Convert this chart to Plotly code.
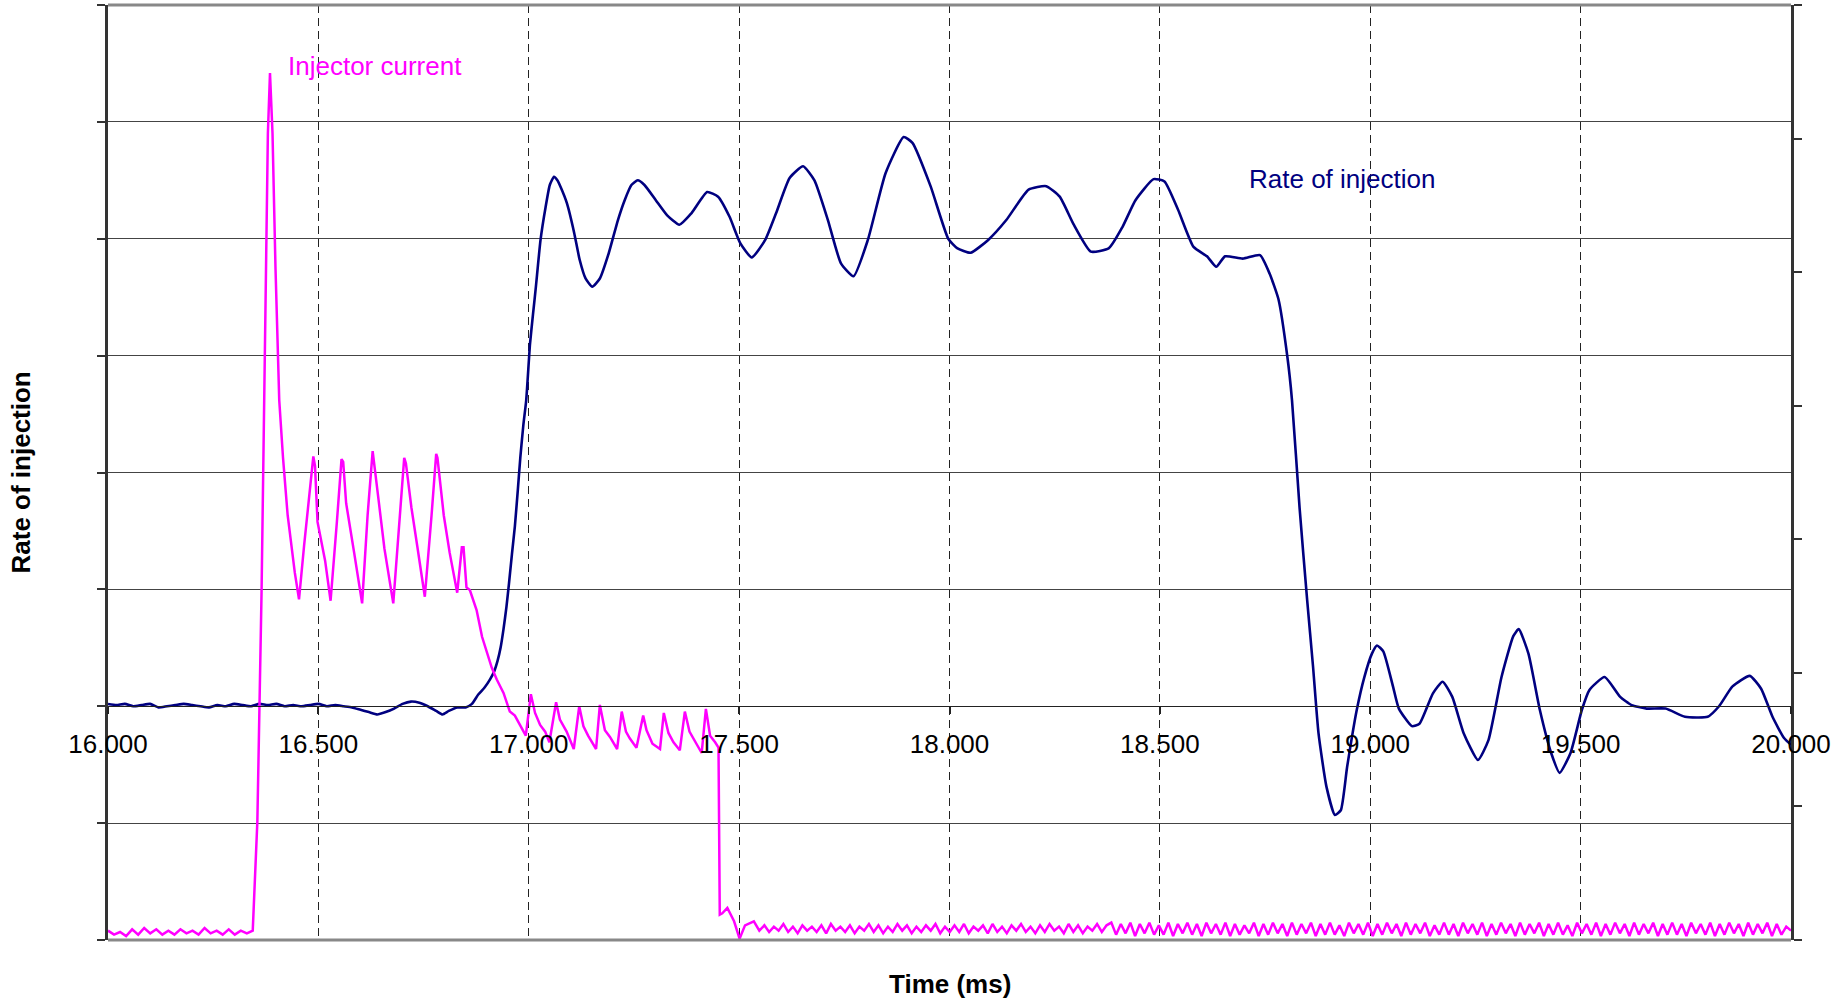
import plotly.graph_objects as go

# ---------------- data ----------------
x_tick_vals = [16.0, 16.5, 17.0, 17.5, 18.0, 18.5, 19.0, 19.5, 20.0]
x_tick_text = ["16.000", "16.500", "17.000", "17.500", "18.000", "18.500", "19.000", "19.500", "20.000"]

# Rate of injection (primary axis)
rate_t = [16.00, 16.02, 16.04, 16.06, 16.08, 16.10, 16.12, 16.14, 16.16, 16.18,
          16.20, 16.22, 16.24, 16.26, 16.28, 16.30, 16.32, 16.34, 16.36, 16.38,
          16.40, 16.42, 16.44, 16.46, 16.48, 16.50, 16.52, 16.54, 16.56, 16.58,
          16.60, 16.62, 16.64, 16.66, 16.68, 16.70, 16.72, 16.74, 16.76, 16.78,
          16.795, 16.81, 16.83, 16.85, 16.865, 16.88, 16.895, 16.908, 16.918, 16.926,
          16.933, 16.940, 16.947, 16.953, 16.960, 16.967, 16.974, 16.980, 16.987, 16.994,
          17.003, 17.010, 17.017, 17.028, 17.040, 17.050, 17.060, 17.068, 17.076, 17.091,
          17.108, 17.121, 17.135, 17.151, 17.169, 17.190, 17.212, 17.228, 17.244, 17.259,
          17.275, 17.302, 17.329, 17.358, 17.387, 17.424, 17.450, 17.477, 17.503, 17.530,
          17.562, 17.588, 17.620, 17.652, 17.679, 17.711, 17.742, 17.772, 17.806, 17.848,
          17.891, 17.912, 17.955, 17.997, 18.018, 18.050, 18.092, 18.135, 18.188, 18.230,
          18.262, 18.294, 18.336, 18.379, 18.411, 18.442, 18.485, 18.511, 18.543, 18.580,
          18.612, 18.634, 18.655, 18.697, 18.738, 18.761, 18.782, 18.803, 18.814, 18.832,
          18.850, 18.864, 18.877, 18.896, 18.916, 18.930, 18.945, 18.968, 18.986, 19.004,
          19.016, 19.031, 19.054, 19.068, 19.099, 19.117, 19.149, 19.172, 19.195, 19.222,
          19.256, 19.281, 19.312, 19.340, 19.353, 19.376, 19.403, 19.430, 19.450, 19.476,
          19.503, 19.521, 19.557, 19.594, 19.621, 19.657, 19.702, 19.748, 19.802, 19.829,
          19.861, 19.902, 19.929, 19.956, 19.983, 20.000]
rate_v = [0.02, 0.01, 0.02, 0.00, 0.01, 0.02, -0.01, 0.00, 0.01, 0.02,
          0.01, 0.00, -0.01, 0.01, 0.00, 0.02, 0.01, 0.00, 0.02, 0.01,
          0.02, 0.00, 0.01, 0.00, 0.01, 0.02, 0.00, 0.01, 0.00, -0.01,
          -0.03, -0.05, -0.07, -0.05, -0.02, 0.02, 0.04, 0.03, 0.00, -0.04,
          -0.07, -0.04, -0.01, -0.01, 0.02, 0.10, 0.16, 0.23, 0.30, 0.39,
          0.50, 0.66, 0.85, 1.05, 1.30, 1.54, 1.85, 2.13, 2.40, 2.62,
          3.10, 3.35, 3.59, 3.99, 4.27, 4.46, 4.53, 4.50, 4.44, 4.30,
          4.05, 3.82, 3.66, 3.59, 3.66, 3.875, 4.16, 4.33, 4.46, 4.50,
          4.46, 4.33, 4.20, 4.12, 4.22, 4.40, 4.36, 4.19, 3.96, 3.84,
          3.99, 4.22, 4.52, 4.62, 4.50, 4.16, 3.79, 3.68, 3.99, 4.56,
          4.87, 4.82, 4.45, 4.00, 3.92, 3.88, 3.99, 4.16, 4.42, 4.45,
          4.36, 4.13, 3.89, 3.92, 4.10, 4.33, 4.51, 4.49, 4.25, 3.93,
          3.85, 3.76, 3.85, 3.83, 3.86, 3.70, 3.48, 2.99, 2.62, 1.70,
          0.91, 0.34, -0.23, -0.69, -0.93, -0.89, -0.52, -0.03, 0.25, 0.45,
          0.52, 0.47, 0.17, -0.02, -0.17, -0.15, 0.11, 0.21, 0.08, -0.23,
          -0.46, -0.29, 0.25, 0.60, 0.66, 0.45, -0.03, -0.40, -0.57, -0.40,
          -0.03, 0.14, 0.25, 0.08, 0.01, -0.02, -0.02, -0.09, -0.09, 0.00,
          0.17, 0.26, 0.15, -0.09, -0.27, -0.33]

# Injector current (secondary axis)
# baseline ripple before the pulse (hundredths), sampled from 16.000 to 16.330
pre_ripple = [7, 4, 6, 3, 8, 4, 9, 5, 8, 4, 7, 4, 8, 5, 7, 4, 9, 5, 7, 4, 8, 4, 7, 5]
pre_start, pre_end = 16.000, 16.330

current_t = [16.344, 16.355, 16.365, 16.371, 16.380, 16.385, 16.391, 16.398, 16.407, 16.416,
             16.427, 16.444, 16.454, 16.466, 16.478, 16.488, 16.492, 16.498, 16.516, 16.529,
             16.544, 16.555, 16.559, 16.566, 16.585, 16.604, 16.617, 16.629, 16.644, 16.657,
             16.678, 16.694, 16.704, 16.708, 16.721, 16.735, 16.753, 16.769, 16.780, 16.783,
             16.798, 16.812, 16.830, 16.841, 16.845, 16.852, 16.860, 16.876, 16.889, 16.912,
             16.924, 16.940, 16.955, 16.967, 16.979, 16.993, 17.005, 17.015, 17.027, 17.039,
             17.049, 17.065, 17.074, 17.090, 17.107, 17.120, 17.130, 17.141, 17.160, 17.169,
             17.181, 17.193, 17.210, 17.221, 17.231, 17.240, 17.256, 17.272, 17.280, 17.294,
             17.312, 17.321, 17.332, 17.344, 17.359, 17.371, 17.382, 17.393, 17.411, 17.421,
             17.431, 17.443, 17.451, 17.454, 17.460, 17.472, 17.488, 17.501, 17.514, 17.535,
             17.548]
current_v = [0.07, 0.89, 2.61, 4.04, 6.04, 6.49, 6.04, 5.04, 4.04, 3.61,
             3.18, 2.75, 2.55, 2.95, 3.30, 3.62, 3.55, 3.13, 2.84, 2.54,
             3.13, 3.60, 3.58, 3.27, 2.90, 2.52, 3.18, 3.66, 3.27, 2.93,
             2.52, 3.18, 3.61, 3.57, 3.24, 2.95, 2.57, 3.18, 3.64, 3.61,
             3.18, 2.90, 2.60, 2.94, 2.94, 2.64, 2.62, 2.47, 2.27, 2.04,
             1.95, 1.85, 1.71, 1.68, 1.61, 1.53, 1.84, 1.70, 1.61, 1.56,
             1.48, 1.78, 1.65, 1.56, 1.43, 1.75, 1.60, 1.53, 1.43, 1.76,
             1.57, 1.52, 1.43, 1.71, 1.56, 1.51, 1.44, 1.68, 1.57, 1.47,
             1.43, 1.70, 1.55, 1.48, 1.42, 1.71, 1.56, 1.50, 1.40, 1.73,
             1.53, 1.48, 1.44, 0.19, 0.20, 0.24, 0.14, 0.01, 0.11, 0.14,
             0.07]

# baseline ripple after the pulse (hundredths), sampled from 17.560 to 20.000
post_ripple = [11, 6, 10, 7, 12, 6, 10, 5, 11, 7, 10, 6, 11, 5, 12, 7, 10, 6, 11, 5,
               10, 7, 12, 6, 11, 5, 10, 6, 12, 7, 11, 5, 10, 6, 11, 7, 12, 5, 10, 6,
               11, 6, 12, 5, 10, 7, 11, 5, 12, 6, 10, 5, 11, 7, 12, 6, 10, 5, 11, 6,
               12, 7, 10, 5, 12, 6, 11, 5, 10, 7, 12, 6, 11,
               13, 4, 12, 5, 13, 3, 12, 5, 13, 4, 11, 4, 13, 3, 12, 5, 13, 4, 12, 3,
               13, 5, 12, 4, 13, 3, 12, 4, 11, 5, 13, 3, 12, 4, 13, 5, 12, 3, 13, 4,
               12, 5, 13, 3, 12, 4, 13, 4, 11, 3, 13, 5, 12, 4, 13, 3, 12, 4, 13, 5,
               12, 3, 13, 4, 12, 5, 13, 3, 11, 4, 13, 4, 12, 3, 13, 5, 12, 4, 13, 3,
               12, 4, 13, 5, 12, 3, 13, 4, 12, 5, 13, 3, 12, 4, 13, 4, 11, 3, 13, 5,
               12, 4, 13, 3, 12, 4, 13, 5, 12, 3, 13, 4, 12, 5, 13, 3, 12, 4, 13, 4,
               12, 3, 13, 5, 12, 4, 13, 3, 12, 4, 13, 5, 12, 3, 13, 4, 12, 5, 13, 3,
               12, 4, 10, 7]
post_start, post_end = 17.560, 20.000

# ---------------- assemble sample grids ----------------
def grid(a, b, n):
    return [a + (b - a) * i / (n - 1) for i in range(n)]

inj_t = grid(pre_start, pre_end, len(pre_ripple)) + current_t + grid(post_start, post_end, len(post_ripple))
inj_v = [v / 100 for v in pre_ripple] + current_v + [v / 100 for v in post_ripple]

NAVY = "#000080"
MAGENTA = "#FF00FF"
FONT = "Liberation Sans, Arial, sans-serif"
FS = 26

fig = go.Figure()
fig.add_trace(go.Scatter(x=rate_t, y=rate_v, mode="lines", name="Rate of injection",
                         line=dict(color=NAVY, width=2.6, shape="spline", smoothing=0.5),
                         yaxis="y"))
fig.add_trace(go.Scatter(x=inj_t, y=inj_v, mode="lines", name="Injector current",
                         line=dict(color=MAGENTA, width=2.5), yaxis="y2"))

fig.update_layout(
    width=1848, height=1004,
    margin=dict(l=108, r=57, t=5, b=64),
    paper_bgcolor="white", plot_bgcolor="white",
    showlegend=False,
    font=dict(family=FONT, size=FS, color="black"),
    xaxis=dict(
        range=[16, 20], anchor="free", position=0.25,
        tickmode="array", tickvals=x_tick_vals, ticktext=x_tick_text,
        ticks="outside", ticklen=7, tickwidth=1.5, tickcolor="#222",
        ticklabelstandoff=8,
        showline=True, linecolor="#222", linewidth=1,
        showgrid=True, gridcolor="#222", gridwidth=1, griddash="8px,5px",
        zeroline=False, tickfont=dict(size=FS, family=FONT),
    ),
    yaxis=dict(
        range=[-2, 6], tick0=0, dtick=1, showticklabels=False,
        ticks="outside", ticklen=8, tickwidth=1.5, tickcolor="#333",
        showline=True, linecolor="#333", linewidth=2.5,
        showgrid=True, gridcolor="#444", gridwidth=1, zeroline=False,
    ),
    yaxis2=dict(
        range=[0, 7], tick0=0, dtick=1, showticklabels=False,
        overlaying="y", side="right",
        ticks="outside", ticklen=8, tickwidth=1.5, tickcolor="#333",
        showline=True, linecolor="#333", linewidth=2.5,
        showgrid=False, zeroline=False,
    ),
    shapes=[
        dict(type="line", xref="paper", yref="paper", x0=0, x1=1, y0=1, y1=1,
             line=dict(color="#888888", width=3)),
        dict(type="line", xref="paper", yref="paper", x0=0, x1=1, y0=0, y1=0,
             line=dict(color="#888888", width=3)),
    ],
    annotations=[
        dict(text="Injector current", x=16.423, xref="x", y=0.9348, yref="paper",
             xanchor="left", yanchor="middle", showarrow=False,
             font=dict(color=MAGENTA, size=FS, family=FONT)),
        dict(text="Rate of injection", x=18.707, xref="x", y=0.8139, yref="paper",
             xanchor="left", yanchor="middle", showarrow=False,
             font=dict(color=NAVY, size=FS, family=FONT)),
        dict(text="<b>Time (ms)</b>", x=0.5, xref="paper", y=-0.047, yref="paper",
             xanchor="center", yanchor="middle", showarrow=False,
             font=dict(color="black", size=FS, family=FONT)),
        dict(text="<b>Rate of injection</b>", x=-0.0517, xref="paper", y=0.5, yref="paper",
             xanchor="center", yanchor="middle", showarrow=False, textangle=-90,
             font=dict(color="black", size=FS, family=FONT)),
    ],
)

fig.write_html("out.html")
